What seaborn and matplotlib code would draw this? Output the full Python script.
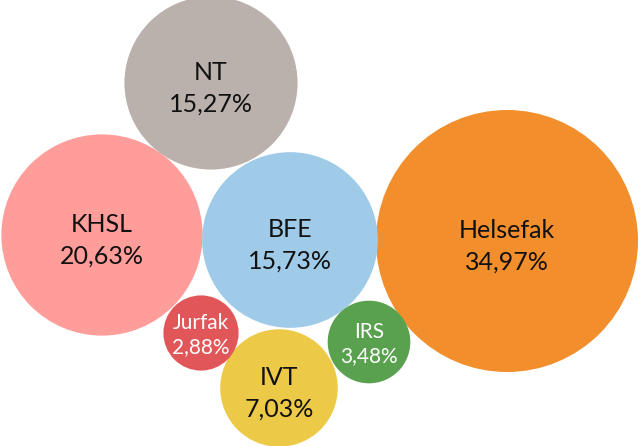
import numpy as np
import seaborn as sns
import matplotlib.pyplot as plt
from matplotlib.patches import Circle

# Data
faculties = ["Helsefak", "KHSL", "BFE", "NT", "IVT", "IRS", "Jurfak"]
shares = [34.97, 20.63, 15.73, 15.27, 7.03, 3.48, 2.88]
colors = ["#F28E2B", "#FF9D9A", "#A0CBE8", "#BAB0AC", "#EDC948", "#59A14F", "#E15759"]
text_colors = ["#111111", "#111111", "#111111", "#111111", "#111111", "white", "white"]

# Layout of the packed bubbles (centre positions, pixel units)
centre_x = [507, 102, 290, 211, 279, 369, 201]
centre_y = [241, 235, 240, 83, 388, 342, 333]

sns.set_theme(style="white")
plt.rcParams['font.family'] = ['Lato', 'DejaVu Sans']

fig = plt.figure(figsize=(6.41, 4.46), dpi=100)
ax = fig.add_axes([0, 0, 1, 1])

# area proportional to share
scale = 131 / np.sqrt(max(shares))
for name, val, col, tcol, cx, cy in zip(faculties, shares, colors, text_colors, centre_x, centre_y):
    r = scale * np.sqrt(val)
    ax.add_patch(Circle((cx, cy), r, facecolor=col, edgecolor="none"))
    big = val > 5
    label = f"{name}\n{val:.2f}%".replace(".", ",")
    ax.text(cx, cy + (5 if big else 2), label, ha="center", va="center",
            fontsize=18 if big else 15, color=tcol,
            linespacing=1.45 if big else 1.3)

ax.set_xlim(0, 641)
ax.set_ylim(446, 0)
ax.set_aspect("equal")
ax.axis("off")

plt.savefig("out.png", dpi=100)
